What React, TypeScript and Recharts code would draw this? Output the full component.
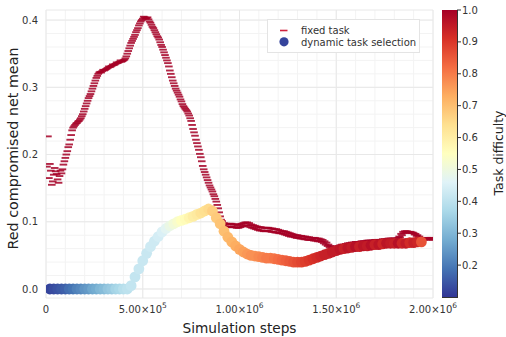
import React from 'react';
import { ScatterChart, Scatter, XAxis, YAxis, CartesianGrid } from 'recharts';

// ---------- data ----------
// fixed task: mean read at every 10k steps (10k ... 1.99M)
const FIXED_STEP_SIZE = 10000;
const FIXED_MEAN = [
  0.227, 0.186, 0.155, 0.170, 0.175, 0.163, 0.168, 0.172, 0.185, 0.195,
  0.205, 0.215, 0.229, 0.240, 0.244, 0.247, 0.250, 0.254, 0.260, 0.268,
  0.276, 0.284, 0.290, 0.298, 0.306, 0.314, 0.320, 0.323, 0.324, 0.325,
  0.327, 0.329, 0.330, 0.332, 0.333, 0.335, 0.336, 0.338, 0.338, 0.340,
  0.343, 0.350, 0.358, 0.366, 0.372, 0.378, 0.385, 0.392, 0.398, 0.402,
  0.404, 0.403, 0.401, 0.396, 0.390, 0.385, 0.379, 0.374, 0.367, 0.360,
  0.352, 0.344, 0.336, 0.325, 0.315, 0.306, 0.298, 0.292, 0.286, 0.279,
  0.272, 0.268, 0.264, 0.258, 0.250, 0.238, 0.228, 0.217, 0.207, 0.196,
  0.183, 0.174, 0.166, 0.158, 0.151, 0.145, 0.138, 0.130, 0.120, 0.108,
  0.101, 0.098, 0.097, 0.096, 0.097, 0.097, 0.096, 0.096, 0.095, 0.096,
  0.097, 0.098, 0.099, 0.099, 0.098, 0.096, 0.095, 0.094, 0.093, 0.092,
  0.092, 0.091, 0.091, 0.091, 0.091, 0.090, 0.090, 0.089, 0.089, 0.088,
  0.087, 0.086, 0.086, 0.085, 0.084, 0.083, 0.082, 0.081, 0.080, 0.080,
  0.079, 0.079, 0.078, 0.078, 0.077, 0.077, 0.076, 0.076, 0.076, 0.075,
  0.075, 0.074, 0.073, 0.071, 0.069, 0.066, 0.064, 0.062, 0.062, 0.063,
  0.064, 0.065, 0.066, 0.066, 0.067, 0.068, 0.068, 0.069, 0.069, 0.070,
  0.070, 0.070, 0.071, 0.071, 0.071, 0.072, 0.072, 0.072, 0.072, 0.073,
  0.073, 0.073, 0.073, 0.074, 0.074, 0.074, 0.075, 0.075, 0.075, 0.075,
  0.075, 0.076, 0.077, 0.080, 0.083, 0.084, 0.084, 0.084, 0.083, 0.083,
  0.082, 0.080, 0.078, 0.076, 0.075, 0.075, 0.076, 0.076, 0.076,
];
// fixed task: mean read half-way between those (5k, 15k ... 1.995M)
const FIXED_MEAN_MID = [
  0.182, 0.165, 0.176, 0.160, 0.180, 0.171, 0.158, 0.176, 0.178, 0.190,
  0.200, 0.211, 0.222, 0.236, 0.242, 0.246, 0.249, 0.252, 0.257, 0.264,
  0.272, 0.280, 0.287, 0.294, 0.302, 0.310, 0.317, 0.322, 0.322, 0.326,
  0.326, 0.328, 0.331, 0.331, 0.334, 0.334, 0.337, 0.337, 0.340, 0.339,
  0.341, 0.346, 0.354, 0.362, 0.369, 0.375, 0.382, 0.388, 0.395, 0.400,
  0.405, 0.402, 0.404, 0.398, 0.393, 0.388, 0.382, 0.376, 0.371, 0.363,
  0.356, 0.348, 0.340, 0.331, 0.320, 0.310, 0.302, 0.295, 0.289, 0.282,
  0.275, 0.270, 0.266, 0.261, 0.254, 0.244, 0.233, 0.222, 0.212, 0.201,
  0.190, 0.178, 0.170, 0.162, 0.154, 0.148, 0.141, 0.134, 0.125, 0.114,
  0.103, 0.095, 0.093, 0.092, 0.092, 0.093, 0.092, 0.092, 0.091, 0.091,
  0.092, 0.093, 0.094, 0.095, 0.094, 0.092, 0.091, 0.090, 0.089, 0.088,
  0.087, 0.087, 0.086, 0.086, 0.087, 0.086, 0.085, 0.085, 0.084, 0.084,
  0.083, 0.083, 0.082, 0.081, 0.080, 0.079, 0.078, 0.078, 0.077, 0.076,
  0.076, 0.075, 0.075, 0.074, 0.074, 0.073, 0.073, 0.073, 0.072, 0.072,
  0.071, 0.071, 0.070, 0.068, 0.066, 0.064, 0.062, 0.060, 0.059, 0.060,
  0.061, 0.062, 0.063, 0.063, 0.064, 0.065, 0.065, 0.066, 0.066, 0.067,
  0.067, 0.067, 0.068, 0.068, 0.068, 0.069, 0.069, 0.069, 0.070, 0.070,
  0.070, 0.070, 0.071, 0.071, 0.071, 0.072, 0.072, 0.072, 0.072, 0.073,
  0.073, 0.073, 0.078, 0.082, 0.085, 0.086, 0.086, 0.085, 0.085, 0.084,
  0.081, 0.079, 0.077, 0.075, 0.073, 0.073, 0.074, 0.074, 0.074, 0.073,
];

// dynamic task selection: mean and task difficulty every 20k steps (20k ... 1.94M)
const DYN_STEP_SIZE = 20000;
const DYN_MEAN = [
  0, 0, 0, 0, 0, 0, 0, 0, 0, 0,
  0, 0, 0, 0, 0, 0, 0, 0, 0, 0,
  0, 0.005, 0.018, 0.030, 0.042, 0.053, 0.063, 0.071, 0.078, 0.085,
  0.090, 0.094, 0.097, 0.100, 0.102, 0.104, 0.106, 0.108, 0.111, 0.113,
  0.116, 0.119, 0.116, 0.106, 0.097, 0.086, 0.077, 0.070, 0.064, 0.059,
  0.055, 0.052, 0.050, 0.049, 0.048, 0.047, 0.046, 0.046, 0.045, 0.044,
  0.043, 0.042, 0.041, 0.040, 0.040, 0.040, 0.041, 0.043, 0.045, 0.047,
  0.049, 0.051, 0.053, 0.055, 0.057, 0.059, 0.060, 0.061, 0.062, 0.063,
  0.063, 0.064, 0.064, 0.065, 0.066, 0.066, 0.067, 0.068, 0.068, 0.068,
  0.068, 0.068, 0.068, 0.069, 0.069, 0.070, 0.070,
];
const DYN_DIFFICULTY = [
  0.12, 0.13, 0.14, 0.15, 0.16, 0.18, 0.19, 0.21, 0.22, 0.24,
  0.25, 0.27, 0.28, 0.30, 0.31, 0.33, 0.34, 0.36, 0.37, 0.39,
  0.40, 0.41, 0.41, 0.42, 0.42, 0.42, 0.43, 0.43, 0.44, 0.45,
  0.47, 0.49, 0.51, 0.53, 0.55, 0.56, 0.58, 0.60, 0.61, 0.63,
  0.64, 0.65, 0.67, 0.68, 0.69, 0.70, 0.71, 0.72, 0.73, 0.74,
  0.75, 0.76, 0.77, 0.77, 0.78, 0.79, 0.80, 0.80, 0.81, 0.82,
  0.83, 0.84, 0.85, 0.86, 0.87, 0.88, 0.89, 0.90, 0.91, 0.92,
  0.93, 0.94, 0.94, 0.95, 0.95, 0.96, 0.94, 0.96, 0.95, 0.97,
  0.94, 0.96, 0.95, 0.97, 0.94, 0.96, 0.93, 0.96, 0.95, 0.94,
  0.97, 0.93, 0.95, 0.92, 0.94, 0.93, 0.86,
];

const X_TICKS = [0, 500000, 1000000, 1500000, 2000000];
const X_TICK_MANTISSA = ['0', '5.00×10', '1.00×10', '1.50×10', '2.00×10'];
const X_TICK_EXPONENT = ['', '5', '6', '6', '6'];
const Y_TICKS = [0, 0.1, 0.2, 0.3, 0.4];
const Y_TICK_LABELS = ['0.0', '0.1', '0.2', '0.3', '0.4'];
const X_MINOR = [0, 100000, 200000, 300000, 400000, 500000, 600000, 700000, 800000, 900000, 1000000,
  1100000, 1200000, 1300000, 1400000, 1500000, 1600000, 1700000, 1800000, 1900000, 2000000];
const Y_MINOR = [0, 0.02, 0.04, 0.06, 0.08, 0.1, 0.12, 0.14, 0.16, 0.18, 0.2, 0.22, 0.24, 0.26, 0.28,
  0.3, 0.32, 0.34, 0.36, 0.38, 0.4];
const CBAR_MIN = 0.1;
const CBAR_MAX = 1.0;
const CBAR_TICKS = [0.2, 0.3, 0.4, 0.5, 0.6, 0.7, 0.8, 0.9, 1.0];
const CBAR_TICK_LABELS = ['0.2', '0.3', '0.4', '0.5', '0.6', '0.7', '0.8', '0.9', '1.0'];
const LEGEND_LABELS = ['fixed task', 'dynamic task selection'];

// ---------- colormap (RdYlBu reversed) ----------
const RDYLBU_R = ['#313695', '#4575b4', '#74add1', '#abd9e9', '#e0f3f8', '#ffffbf',
  '#fee090', '#fdae61', '#f46d43', '#d73027', '#a50026'];
const hex = (h: string) => [1, 3, 5].map((i) => parseInt(h.slice(i, i + 2), 16));
function cmap(v: number) {
  let t = (v - CBAR_MIN) / (CBAR_MAX - CBAR_MIN);
  t = Math.max(0, Math.min(1, t));
  const p = t * (RDYLBU_R.length - 1);
  const i = Math.min(Math.floor(p), RDYLBU_R.length - 2);
  const f = p - i;
  const a = hex(RDYLBU_R[i]);
  const b = hex(RDYLBU_R[i + 1]);
  const c = a.map((av, k) => Math.round(av + (b[k] - av) * f));
  return `rgb(${c[0]},${c[1]},${c[2]})`;
}

const fixedData: { x: number; y: number }[] = [];
FIXED_MEAN_MID.forEach((y, m) => {
  fixedData.push({ x: m * FIXED_STEP_SIZE + FIXED_STEP_SIZE / 2, y });
  if (m < FIXED_MEAN.length) fixedData.push({ x: (m + 1) * FIXED_STEP_SIZE, y: FIXED_MEAN[m] });
});
const dynData = DYN_MEAN.map((y, i) => ({ x: (i + 1) * DYN_STEP_SIZE, y, d: DYN_DIFFICULTY[i] }));

const FONT = '"DejaVu Sans", Verdana, sans-serif';
const FIXED_COLOR = '#a50026';

// ---------- layout ----------
const W = 506;
const H = 337;
const PLOT_TOP = 10;
const PLOT_BOTTOM = 298;
const CBAR_X = 442;
const CBAR_W = 15;
const CBAR_TOP = 10;
const CBAR_BOTTOM = 297;

const FixedDash = (props: any) => {
  const { cx, cy } = props;
  if (cx == null || cy == null) return null;
  return <line x1={cx - 3.8} x2={cx + 3.8} y1={cy} y2={cy} stroke={FIXED_COLOR} strokeWidth={1.9} strokeOpacity={0.85} />;
};

const DynDot = (props: any) => {
  const { cx, cy, payload } = props;
  if (cx == null || cy == null) return null;
  return <circle cx={cx} cy={cy} r={5.4} fill={cmap(payload.d)} />;
};

const XTick = (props: any) => {
  const { x, y, payload } = props;
  const idx = X_TICKS.indexOf(payload.value);
  if (idx < 0) return null;
  return (
    <text x={x} y={y + 7} textAnchor="middle" fontSize={10} fill="#333" fontFamily={FONT}>
      <tspan>{X_TICK_MANTISSA[idx]}</tspan>
      {X_TICK_EXPONENT[idx] ? <tspan dy={-5.5} fontSize={7.5}>{X_TICK_EXPONENT[idx]}</tspan> : null}
    </text>
  );
};

const YLabel = (props: any) => {
  const vb = props.viewBox || { x: 0, y: PLOT_TOP, width: 46, height: PLOT_BOTTOM - PLOT_TOP };
  const cx = vb.x + 12.5;
  const cy = vb.y + vb.height / 2 - 5.5;
  return (
    <text x={cx} y={cy} textAnchor="middle" dominantBaseline="central" fontSize={14.3} fill="#222" fontFamily={FONT}
      transform={`rotate(-90 ${cx} ${cy})`}>Red compromised net mean</text>
  );
};

const cbarY = (v: number) => CBAR_TOP + ((CBAR_MAX - v) / (CBAR_MAX - CBAR_MIN)) * (CBAR_BOTTOM - CBAR_TOP);

export default function App() {
  return (
    <div style={{ position: 'absolute', left: 0, top: 0, width: W, height: H, background: '#fff', fontFamily: FONT }}>
      <ScatterChart width={W} height={H} margin={{ top: PLOT_TOP, right: 73, bottom: 0, left: 0 }}>
        <CartesianGrid stroke="#f3f3f3" strokeWidth={1} horizontalValues={Y_MINOR} verticalValues={X_MINOR} syncWithTicks />
        <CartesianGrid stroke="#e8e8e8" strokeWidth={1} />
        <XAxis
          type="number"
          dataKey="x"
          domain={[0, 2000000]}
          ticks={X_TICKS}
          allowDataOverflow
          axisLine={false}
          tickLine={false}
          height={H - PLOT_BOTTOM}
          tick={<XTick />}
          interval={0}
          label={{ value: 'Simulation steps', position: 'insideBottom', offset: 4, style: { fontSize: 13.7, fill: '#222', fontFamily: FONT } }}
        />
        <YAxis
          type="number"
          dataKey="y"
          domain={[-0.0134, 0.415]}
          ticks={Y_TICKS}
          allowDataOverflow
          axisLine={false}
          tickLine={false}
          width={46}
          interval={0}
          tickFormatter={(v: number) => Y_TICK_LABELS[Y_TICKS.indexOf(v)] ?? String(v)}
          tick={{ fontSize: 10, fill: '#333', fontFamily: FONT }}
          label={<YLabel />}
        />
        <Scatter name={LEGEND_LABELS[0]} data={fixedData} shape={<FixedDash />} isAnimationActive={false} />
        <Scatter name={LEGEND_LABELS[1]} data={dynData} shape={<DynDot />} isAnimationActive={false} />
      </ScatterChart>
      <svg width={W} height={H} style={{ position: 'absolute', left: 0, top: 0, pointerEvents: 'none' }}>
        <defs>
          <linearGradient id="cbarGrad" x1="0" y1="1" x2="0" y2="0">
            {RDYLBU_R.map((c, i) => (
              <stop key={i} offset={i / (RDYLBU_R.length - 1)} stopColor={c} />
            ))}
          </linearGradient>
        </defs>
        {/* legend */}
        <rect x={267.5} y={19.5} width={152} height={33} fill="#fff" stroke="#e4e4e4" strokeWidth={1} />
        <line x1={280} x2={287.5} y1={30.5} y2={30.5} stroke="#d0223e" strokeWidth={1.6} />
        <circle cx={284} cy={41.8} r={4.6} fill={cmap(0.12)} />
        <text x={301} y={34.2} fontSize={10} fill="#333" fontFamily={FONT}>{LEGEND_LABELS[0]}</text>
        <text x={301} y={45.5} fontSize={10} fill="#333" fontFamily={FONT}>{LEGEND_LABELS[1]}</text>
        {/* colorbar */}
        <rect x={CBAR_X} y={CBAR_TOP} width={CBAR_W} height={CBAR_BOTTOM - CBAR_TOP} fill="url(#cbarGrad)" />
        <line x1={CBAR_X + CBAR_W + 0.5} x2={CBAR_X + CBAR_W + 0.5} y1={CBAR_TOP} y2={CBAR_BOTTOM} stroke="#333" strokeWidth={1} />
        <line x1={CBAR_X} x2={CBAR_X + CBAR_W + 1} y1={CBAR_BOTTOM + 0.5} y2={CBAR_BOTTOM + 0.5} stroke="#333" strokeWidth={1} />
        {CBAR_TICKS.map((v, i) => (
          <g key={i}>
            <line x1={CBAR_X + CBAR_W} x2={CBAR_X + CBAR_W + 4} y1={cbarY(v)} y2={cbarY(v)} stroke="#333" strokeWidth={1} />
            <text x={CBAR_X + CBAR_W + 5} y={cbarY(v) + 3.6} fontSize={10} fill="#333" fontFamily={FONT}>{CBAR_TICK_LABELS[i]}</text>
          </g>
        ))}
        <text x={498} y={153} fontSize={12.5} fill="#222" fontFamily={FONT} textAnchor="middle" dominantBaseline="central" transform="rotate(-90 498 153)">Task difficulty</text>
      </svg>
    </div>
  );
}
